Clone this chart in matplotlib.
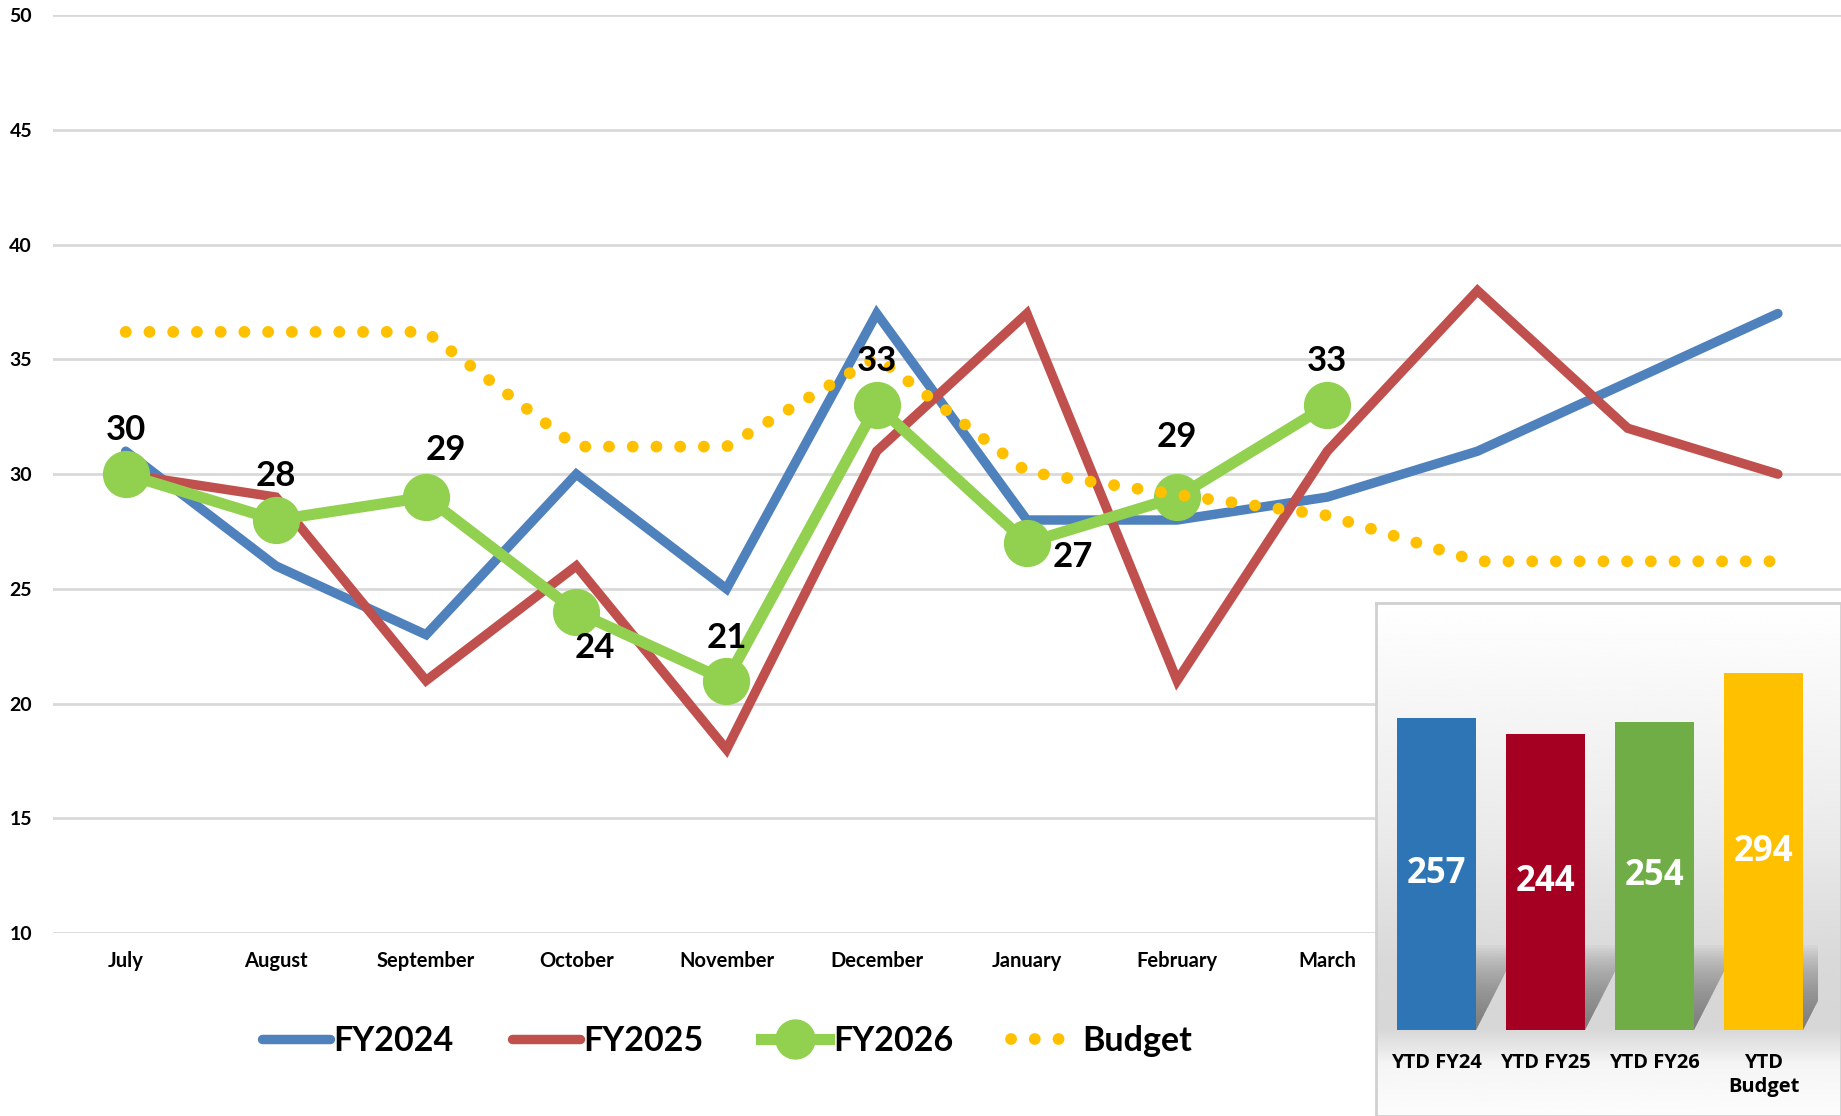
import numpy as np
import matplotlib
matplotlib.use("Agg")
import matplotlib.pyplot as plt
from matplotlib.lines import Line2D
from matplotlib.patches import Polygon

plt.rcParams['font.family'] = ['Lato', 'DejaVu Sans']
plt.rcParams['font.weight'] = 'bold'

## data
#-------------------------------------------------------------------------------
months = ['July', 'August', 'September', 'October', 'November', 'December',
          'January', 'February', 'March', 'April', 'May', 'June']
fy2024 = [31, 26, 23, 30, 25, 37, 28, 28, 29, 31, 34, 37]
fy2025 = [30, 29, 21, 26, 18, 31, 37, 21, 31, 38, 32, 30]
fy2026 = [30, 28, 29, 24, 21, 33, 27, 29, 33]
budget = [36.2, 36.2, 36.2, 31.2, 31.2, 35.1, 30.1, 29.1, 28.2, 26.2, 26.2, 26.2]

ytd_labels = ['YTD FY24', 'YTD FY25', 'YTD FY26', 'YTD\nBudget']
ytd_values = [257, 244, 254, 294]

# label offsets (points) for the FY2026 data labels
lab_off = [(0, 32), (0, 32), (14, 34), (13, -26), (0, 31), (0, 32), (33, -10), (0, 43), (0, 32)]

c_blue = '#4F81BD'
c_red = '#C0504D'
c_green = '#92D050'
c_gold = '#FFC000'
#-------------------------------------------------------------------------------

fig = plt.figure(figsize=(18.41, 11.16), dpi=100)
ax = fig.add_axes([0.0287, 0.164, 0.9713, 0.8223])

x = np.arange(len(months))
ax.plot(x, fy2024, color=c_blue, lw=6.8, solid_joinstyle='miter', solid_capstyle='round', zorder=3)
ax.plot(x, fy2025, color=c_red, lw=6.8, solid_joinstyle='miter', solid_capstyle='round', zorder=4)
ax.plot(x[:len(fy2026)], fy2026, color=c_green, lw=8, marker='o', ms=33, zorder=5)
ax.plot(x, budget, color=c_gold, lw=8.5, linestyle=(0, (0.01, 2.0)),
        dash_capstyle='round', zorder=6)

for i in range(len(fy2026)):
    ax.annotate(str(fy2026[i]), (x[i], fy2026[i]), xytext=lab_off[i],
                textcoords='offset points', ha='center', va='center',
                fontsize=25, fontweight='bold', zorder=8)

ax.set_xlim(-0.485, 11.42)
ax.set_ylim(10, 50)
ax.set_yticks(np.arange(10, 51, 5))
ax.set_xticks(x)
ax.set_xticklabels(months)
ax.grid(axis='y', color='#d9d9d9', lw=2)
ax.set_axisbelow(True)
for s in ax.spines.values():
    s.set_visible(False)
ax.tick_params(axis='y', length=0, labelsize=14, pad=15)
ax.tick_params(axis='x', length=0, labelsize=14.5, pad=13)

handles = [Line2D([], [], color=c_blue, lw=6.8, solid_capstyle='round'),
           Line2D([], [], color=c_red, lw=6.8, solid_capstyle='round'),
           Line2D([], [], color=c_green, lw=8, marker='o', ms=28),
           Line2D([], [], color=c_gold, lw=8.5, linestyle=(0, (0.01, 2.0)), dash_capstyle='round')]
fig.legend(handles, ['FY2024', 'FY2025', 'FY2026', 'Budget'], loc='center',
           bbox_to_anchor=(0.395, 0.067), ncol=4, frameon=False, fontsize=24.5,
           handlelength=2.0, handletextpad=0.1, columnspacing=1.7)

# inset box with YTD bars
box = fig.add_axes([0.7474, 0.0, 0.2526, 0.4597], zorder=10)
grad = np.interp(np.linspace(1, 0, 300), [0, 0.1, 0.17, 0.3, 0.55, 1.0],
                 [0.99, 0.96, 0.84, 0.85, 0.92, 1.0])
box.imshow(grad[:, None], cmap='gray', vmin=0, vmax=1, aspect='auto',
           extent=[0, 1, 0, 1], interpolation='bicubic')
box.set_xlim(0, 1)
box.set_ylim(0, 1)
box.set_xticks([])
box.set_yticks([])
for s in box.spines.values():
    s.set_color('#d0d0d0')
    s.set_linewidth(2)

bx = fig.add_axes([0.7507, 0.0768, 0.2368, 0.381], zorder=11)
bx.patch.set_alpha(0)
xb = np.arange(len(ytd_values))
w = 0.72
nlay = 30
for i in range(len(ytd_values)):
    xr = xb[i] + w / 2
    xl = xb[i] - w / 2
    for k in range(nlay):
        h = 70 * (1 - k / float(nlay))
        sh = Polygon([(xl, 0), (xr, 0), (xr + 0.4 * h / 70, h), (xl + 0.4 * h / 70, h)],
                     closed=True, color='#707070', alpha=0.05, lw=0, zorder=1)
        bx.add_patch(sh)
bars = bx.bar(xb, ytd_values, width=w, color=['#2E75B6', '#A50021', '#70AD47', c_gold], zorder=3)
for i in range(len(ytd_values)):
    bx.text(xb[i], ytd_values[i] / 2, str(ytd_values[i]), ha='center', va='center',
            color='white', fontsize=25, fontweight='bold', family=['Open Sans', 'DejaVu Sans'], zorder=4)
bx.set_xlim(-0.5, 3.5)
bx.set_ylim(0, 350)
bx.set_xticks(xb)
bx.set_xticklabels(ytd_labels, family=['Open Sans', 'DejaVu Sans'], fontsize=14.5, fontweight='bold',
                   linespacing=1.3)
bx.set_yticks([])
bx.tick_params(axis='x', length=0, pad=16)
for s in bx.spines.values():
    s.set_visible(False)

plt.savefig('out.png', dpi=100)
